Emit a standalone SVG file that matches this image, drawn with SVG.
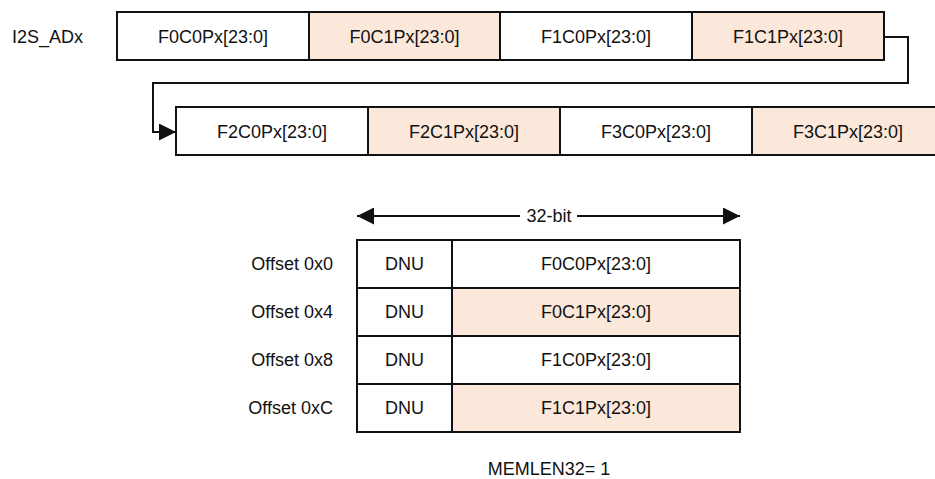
<svg xmlns="http://www.w3.org/2000/svg" width="935" height="479" viewBox="0 0 935 479">
<style>
  text { font-family: "Liberation Sans", Arial, sans-serif; font-size: 18px; fill: #111; }
  .c { text-anchor: middle; }
  .e { text-anchor: end; }
  .w { fill: #ffffff; stroke: #111; stroke-width: 2; }
  .p { fill: #fbe8da; stroke: #111; stroke-width: 2; }
  .ln { fill: none; stroke: #111; stroke-width: 2; }
</style>
<defs>
  <marker id="ah" viewBox="0 0 10 10" refX="10" refY="5" markerWidth="17" markerHeight="17" markerUnits="userSpaceOnUse" orient="auto-start-reverse">
    <path d="M0,0 L10,5 L0,10 Z" fill="#111"/>
  </marker>
</defs>
<rect width="935" height="479" fill="#ffffff"/>

<text x="12" y="43">I2S_ADx</text>

<g id="row1">
  <g id="n-f0c0"><rect class="w" x="117" y="12" width="192" height="48"/><text class="c" x="213" y="43">F0C0Px[23:0]</text></g>
  <g id="n-f0c1"><rect class="p" x="309" y="12" width="191" height="48"/><text class="c" x="404.5" y="43">F0C1Px[23:0]</text></g>
  <g id="n-f1c0"><rect class="w" x="500" y="12" width="192" height="48"/><text class="c" x="596" y="43">F1C0Px[23:0]</text></g>
  <g id="n-f1c1"><rect class="p" x="692" y="12" width="192" height="48"/><text class="c" x="788" y="43">F1C1Px[23:0]</text></g>
</g>

<g id="row2">
  <g id="n-f2c0"><rect class="w" x="176" y="107" width="192" height="48"/><text class="c" x="272" y="138">F2C0Px[23:0]</text></g>
  <g id="n-f2c1"><rect class="p" x="368" y="107" width="192" height="48"/><text class="c" x="464" y="138">F2C1Px[23:0]</text></g>
  <g id="n-f3c0"><rect class="w" x="560" y="107" width="192" height="48"/><text class="c" x="656" y="138">F3C0Px[23:0]</text></g>
  <g id="n-f3c1"><rect class="p" x="752" y="107" width="192" height="48"/><text class="c" x="848" y="138">F3C1Px[23:0]</text></g>
</g>

<g id="connectors">
  <path class="ln" d="M884,37 H908 V83 H153 V132 H176" marker-end="url(#ah)"/>
  <line class="ln" x1="520" y1="216" x2="357" y2="216" marker-end="url(#ah)"/>
  <line class="ln" x1="577" y1="216" x2="740" y2="216" marker-end="url(#ah)"/>
</g>
<text class="c" x="549" y="222">32-bit</text>

<g id="memory">
  <g id="m0"><rect class="w" x="357" y="240" width="95" height="48"/><text class="c" x="404.5" y="270">DNU</text><rect class="w" x="452" y="240" width="288" height="48"/><text class="c" x="596" y="270">F0C0Px[23:0]</text></g>
  <g id="m4"><rect class="w" x="357" y="288" width="95" height="48"/><text class="c" x="404.5" y="318">DNU</text><rect class="p" x="452" y="288" width="288" height="48"/><text class="c" x="596" y="318">F0C1Px[23:0]</text></g>
  <g id="m8"><rect class="w" x="357" y="336" width="95" height="48"/><text class="c" x="404.5" y="366">DNU</text><rect class="w" x="452" y="336" width="288" height="48"/><text class="c" x="596" y="366">F1C0Px[23:0]</text></g>
  <g id="mC"><rect class="w" x="357" y="384" width="95" height="48"/><text class="c" x="404.5" y="414">DNU</text><rect class="p" x="452" y="384" width="288" height="48"/><text class="c" x="596" y="414">F1C1Px[23:0]</text></g>
</g>

<g id="offsets">
  <text class="e" x="333" y="270">Offset 0x0</text>
  <text class="e" x="333" y="318">Offset 0x4</text>
  <text class="e" x="333" y="366">Offset 0x8</text>
  <text class="e" x="333" y="414">Offset 0xC</text>
</g>

<text class="c" x="549" y="475">MEMLEN32= 1</text>
</svg>
